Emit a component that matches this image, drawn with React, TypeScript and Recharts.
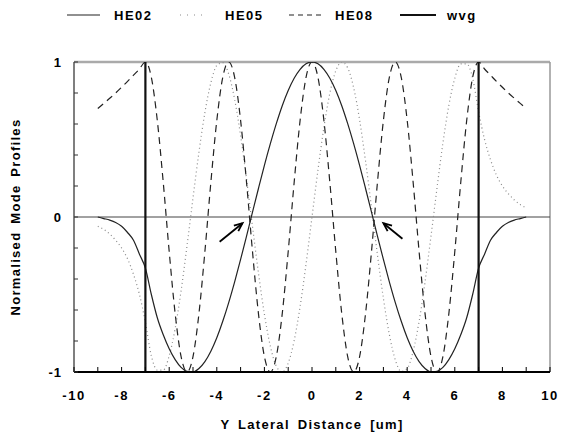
import { LineChart, Line, XAxis, YAxis, ReferenceLine } from "recharts"

// lateral positions (um) where the profiles were read
const xs = [
  -9, -8.75, -8.5, -8.25, -8, -7.75, -7.5, -7.25, -7, -6.75, -6.5, -6.25, -6, -5.75, -5.5, -5.25, -5, -4.75, -4.5,
  -4.25, -4, -3.75, -3.5, -3.25, -3, -2.75, -2.5, -2.25, -2, -1.75, -1.5, -1.25, -1, -0.75, -0.5, -0.25, 0, 0.25,
  0.5, 0.75, 1, 1.25, 1.5, 1.75, 2, 2.25, 2.5, 2.75, 3, 3.25, 3.5, 3.75, 4, 4.25, 4.5, 4.75, 5, 5.25, 5.5, 5.75, 6,
  6.25, 6.5, 6.75, 7, 7.25, 7.5, 7.75, 8, 8.25, 8.5, 8.75, 9,
]

const he02 = [
  0, -0.01, -0.02, -0.035, -0.06, -0.1, -0.15, -0.24, -0.33, -0.5, -0.65, -0.76, -0.85, -0.92, -0.97, -0.996, -1,
  -0.977, -0.933, -0.866, -0.779, -0.673, -0.552, -0.418, -0.274, -0.123, 0.031, 0.184, 0.333, 0.473, 0.602, 0.718,
  0.816, 0.895, 0.953, 0.988, 1, 0.988, 0.953, 0.895, 0.816, 0.718, 0.602, 0.473, 0.333, 0.184, 0.031, -0.123,
  -0.274, -0.418, -0.552, -0.673, -0.779, -0.866, -0.933, -0.977, -1, -0.996, -0.97, -0.92, -0.85, -0.76, -0.65,
  -0.5, -0.33, -0.24, -0.15, -0.1, -0.06, -0.035, -0.02, -0.01, 0,
]

const he05 = [
  -0.06, -0.08, -0.11, -0.15, -0.2, -0.27, -0.37, -0.5, -0.68, -0.896, -0.988, -0.988, -0.895, -0.72, -0.476, -0.184,
  0.123, 0.418, 0.674, 0.866, 0.977, 0.996, 0.922, 0.758, 0.525, 0.244, -0.062, -0.361, -0.627, -0.834, -0.962, -1,
  -0.943, -0.798, -0.578, -0.303, 0, 0.303, 0.578, 0.798, 0.943, 1, 0.962, 0.834, 0.627, 0.361, 0.062, -0.244,
  -0.525, -0.758, -0.922, -0.996, -0.977, -0.866, -0.674, -0.418, -0.123, 0.184, 0.476, 0.72, 0.895, 0.988, 0.988,
  0.896, 0.68, 0.5, 0.37, 0.27, 0.2, 0.15, 0.11, 0.08, 0.06,
]

const he08 = [
  0.7, 0.733, 0.766, 0.8, 0.837, 0.875, 0.915, 0.955, 1, 0.901, 0.623, 0.223, -0.223, -0.623, -0.901, -1, -0.901,
  -0.623, -0.223, 0.223, 0.623, 0.901, 1, 0.901, 0.623, 0.223, -0.223, -0.623, -0.901, -1, -0.901, -0.623, -0.223,
  0.223, 0.623, 0.901, 1, 0.901, 0.623, 0.223, -0.223, -0.623, -0.901, -1, -0.901, -0.623, -0.223, 0.223, 0.623,
  0.901, 1, 0.901, 0.623, 0.223, -0.223, -0.623, -0.901, -1, -0.901, -0.623, -0.223, 0.223, 0.623, 0.901, 1, 0.955,
  0.915, 0.875, 0.837, 0.8, 0.766, 0.733, 0.7,
]

// waveguide walls
const wvgX = [-7, -7, 0, 7, 7]
const wvgY = [-1, 1, null, 1, -1]

const xTicks = [-10, -9, -8, -7, -6, -5, -4, -3, -2, -1, 0, 1, 2, 3, 4, 5, 6, 7, 8, 9, 10]
const yTicks = [-1, -0.8, -0.6, -0.4, -0.2, 0, 0.2, 0.4, 0.6, 0.8, 1]
const yLabels: Record<string, string> = { "-1": "-1", "0": "0", "1": "1" }

// arrows pointing at the HE02 zero crossings
const arrows = [
  { x1: -3.88, y1: -0.16, x2: -2.92, y2: -0.04 },
  { x1: 3.8, y1: -0.14, x2: 3.0, y2: -0.04 },
]

const rows = xs.map((x, i) => ({ x, he02: he02[i], he05: he05[i], he08: he08[i] }))
const wvgRows = wvgX.map((x, i) => ({ x, wvg: wvgY[i] }))

const FONT = "'Liberation Sans', Arial, Helvetica, sans-serif"
const X_GAP = 19
const Y_GAP = 12

const XTick = (p: any) => {
  const { x, y, payload } = p
  const v = payload.value
  const base = y - X_GAP
  return (
    <g>
      <line x1={x} x2={x} y1={base} y2={base - 5} stroke="#000" strokeWidth={1} />
      {v % 2 === 0 && (
        <text x={x} y={y} dy="0.71em" textAnchor="middle" fill="#000" fontSize={13} fontWeight="bold"
          fontFamily={FONT} letterSpacing={1.5}>
          {String(v)}
        </text>
      )}
    </g>
  )
}

const YTick = (p: any) => {
  const { x, y, payload } = p
  const label = yLabels[String(payload.value)] ?? ""
  const base = x + Y_GAP
  return (
    <g>
      <line x1={base} x2={base + 4} y1={y} y2={y} stroke="#333" strokeWidth={1} />
      {label && (
        <text x={x} y={y} dy="0.35em" textAnchor="end" fill="#000" fontSize={13} fontWeight="bold"
          fontFamily={FONT} letterSpacing={1}>
          {label}
        </text>
      )}
    </g>
  )
}

const Arrow = (p: any) => {
  const { x1, y1, x2, y2 } = p
  const a = Math.atan2(y2 - y1, x2 - x1)
  const L = 9
  const w = 0.4
  const pa = [x2 - L * Math.cos(a - w), y2 - L * Math.sin(a - w)]
  const pb = [x2 - L * Math.cos(a + w), y2 - L * Math.sin(a + w)]
  return (
    <g>
      <line x1={x1} y1={y1} x2={x2} y2={y2} stroke="#000" strokeWidth={1.8} />
      <polyline points={`${pa[0]},${pa[1]} ${x2},${y2} ${pb[0]},${pb[1]}`} fill="none" stroke="#000" strokeWidth={1.8} />
    </g>
  )
}

export default function App() {
  return (
    <div style={{ position: "absolute", left: 0, top: 0, width: 561, height: 436, background: "#fff" }}>
      <LineChart width={561} height={436} data={rows} margin={{ top: 62, right: 11, left: 0, bottom: 0 }}>
        <XAxis
          type="number"
          dataKey="x"
          domain={[-10, 10]}
          allowDataOverflow
          ticks={xTicks}
          interval={0}
          height={64}
          tickSize={0}
          tickMargin={X_GAP}
          tick={<XTick />}
          tickLine={false}
          axisLine={{ stroke: "#000", strokeWidth: 2 }}
        />
        <YAxis
          type="number"
          domain={[-1, 1]}
          allowDataOverflow
          ticks={yTicks}
          interval={0}
          width={74}
          tickSize={0}
          tickMargin={Y_GAP}
          tick={<YTick />}
          tickLine={false}
          axisLine={{ stroke: "#555", strokeWidth: 1.5 }}
        />
        <ReferenceLine y={1} stroke="#aaa" strokeWidth={2.5} />
        <ReferenceLine x={10} stroke="#999" strokeWidth={1.5} />
        <ReferenceLine y={0} stroke="#444" strokeWidth={1} />
        <Line
          dataKey="he05"
          type="monotone"
          stroke="#8a8a8a"
          strokeWidth={1.2}
          strokeDasharray="1 3"
          dot={false}
          isAnimationActive={false}
        />
        <Line
          dataKey="he08"
          type="monotone"
          stroke="#222"
          strokeWidth={1.2}
          strokeDasharray="7 5"
          dot={false}
          isAnimationActive={false}
        />
        <Line dataKey="he02" type="monotone" stroke="#222" strokeWidth={1.2} dot={false} isAnimationActive={false} />
        <Line
          data={wvgRows}
          dataKey="wvg"
          type="linear"
          stroke="#111"
          strokeWidth={2.2}
          dot={false}
          connectNulls={false}
          isAnimationActive={false}
        />
        {arrows.map((a, i) => (
          <ReferenceLine
            key={i}
            segment={[
              { x: a.x1, y: a.y1 },
              { x: a.x2, y: a.y2 },
            ]}
            shape={Arrow}
          />
        ))}
      </LineChart>
      <svg
        width={561}
        height={436}
        style={{ position: "absolute", left: 0, top: 0, pointerEvents: "none" }}
        fontFamily={FONT}
        fontWeight="bold"
        fontSize={13}
      >
        <line x1={67} y1={15} x2={100} y2={15} stroke="#222" strokeWidth={1.2} />
        <text x={114} y={20} letterSpacing={1.5}>HE02</text>
        <line x1={180} y1={15} x2={204} y2={15} stroke="#8a8a8a" strokeWidth={1.2} strokeDasharray="1 6" />
        <text x={225} y={20} letterSpacing={1.5}>HE05</text>
        <line x1={289} y1={15} x2={325} y2={15} stroke="#222" strokeWidth={1.2} strokeDasharray="5 4" />
        <text x={335} y={20} letterSpacing={1.5}>HE08</text>
        <line x1={400} y1={15} x2={436} y2={15} stroke="#111" strokeWidth={1.8} />
        <text x={447} y={20} letterSpacing={1.5}>wvg</text>
        <text x={312} y={429} textAnchor="middle" letterSpacing={1.3} wordSpacing={3}>
          Y Lateral Distance [um]
        </text>
        <text x={20} y={217} textAnchor="middle" letterSpacing={1.3} wordSpacing={3} transform="rotate(-90 20 217)">
          Normalised Mode Profiles
        </text>
      </svg>
    </div>
  )
}
